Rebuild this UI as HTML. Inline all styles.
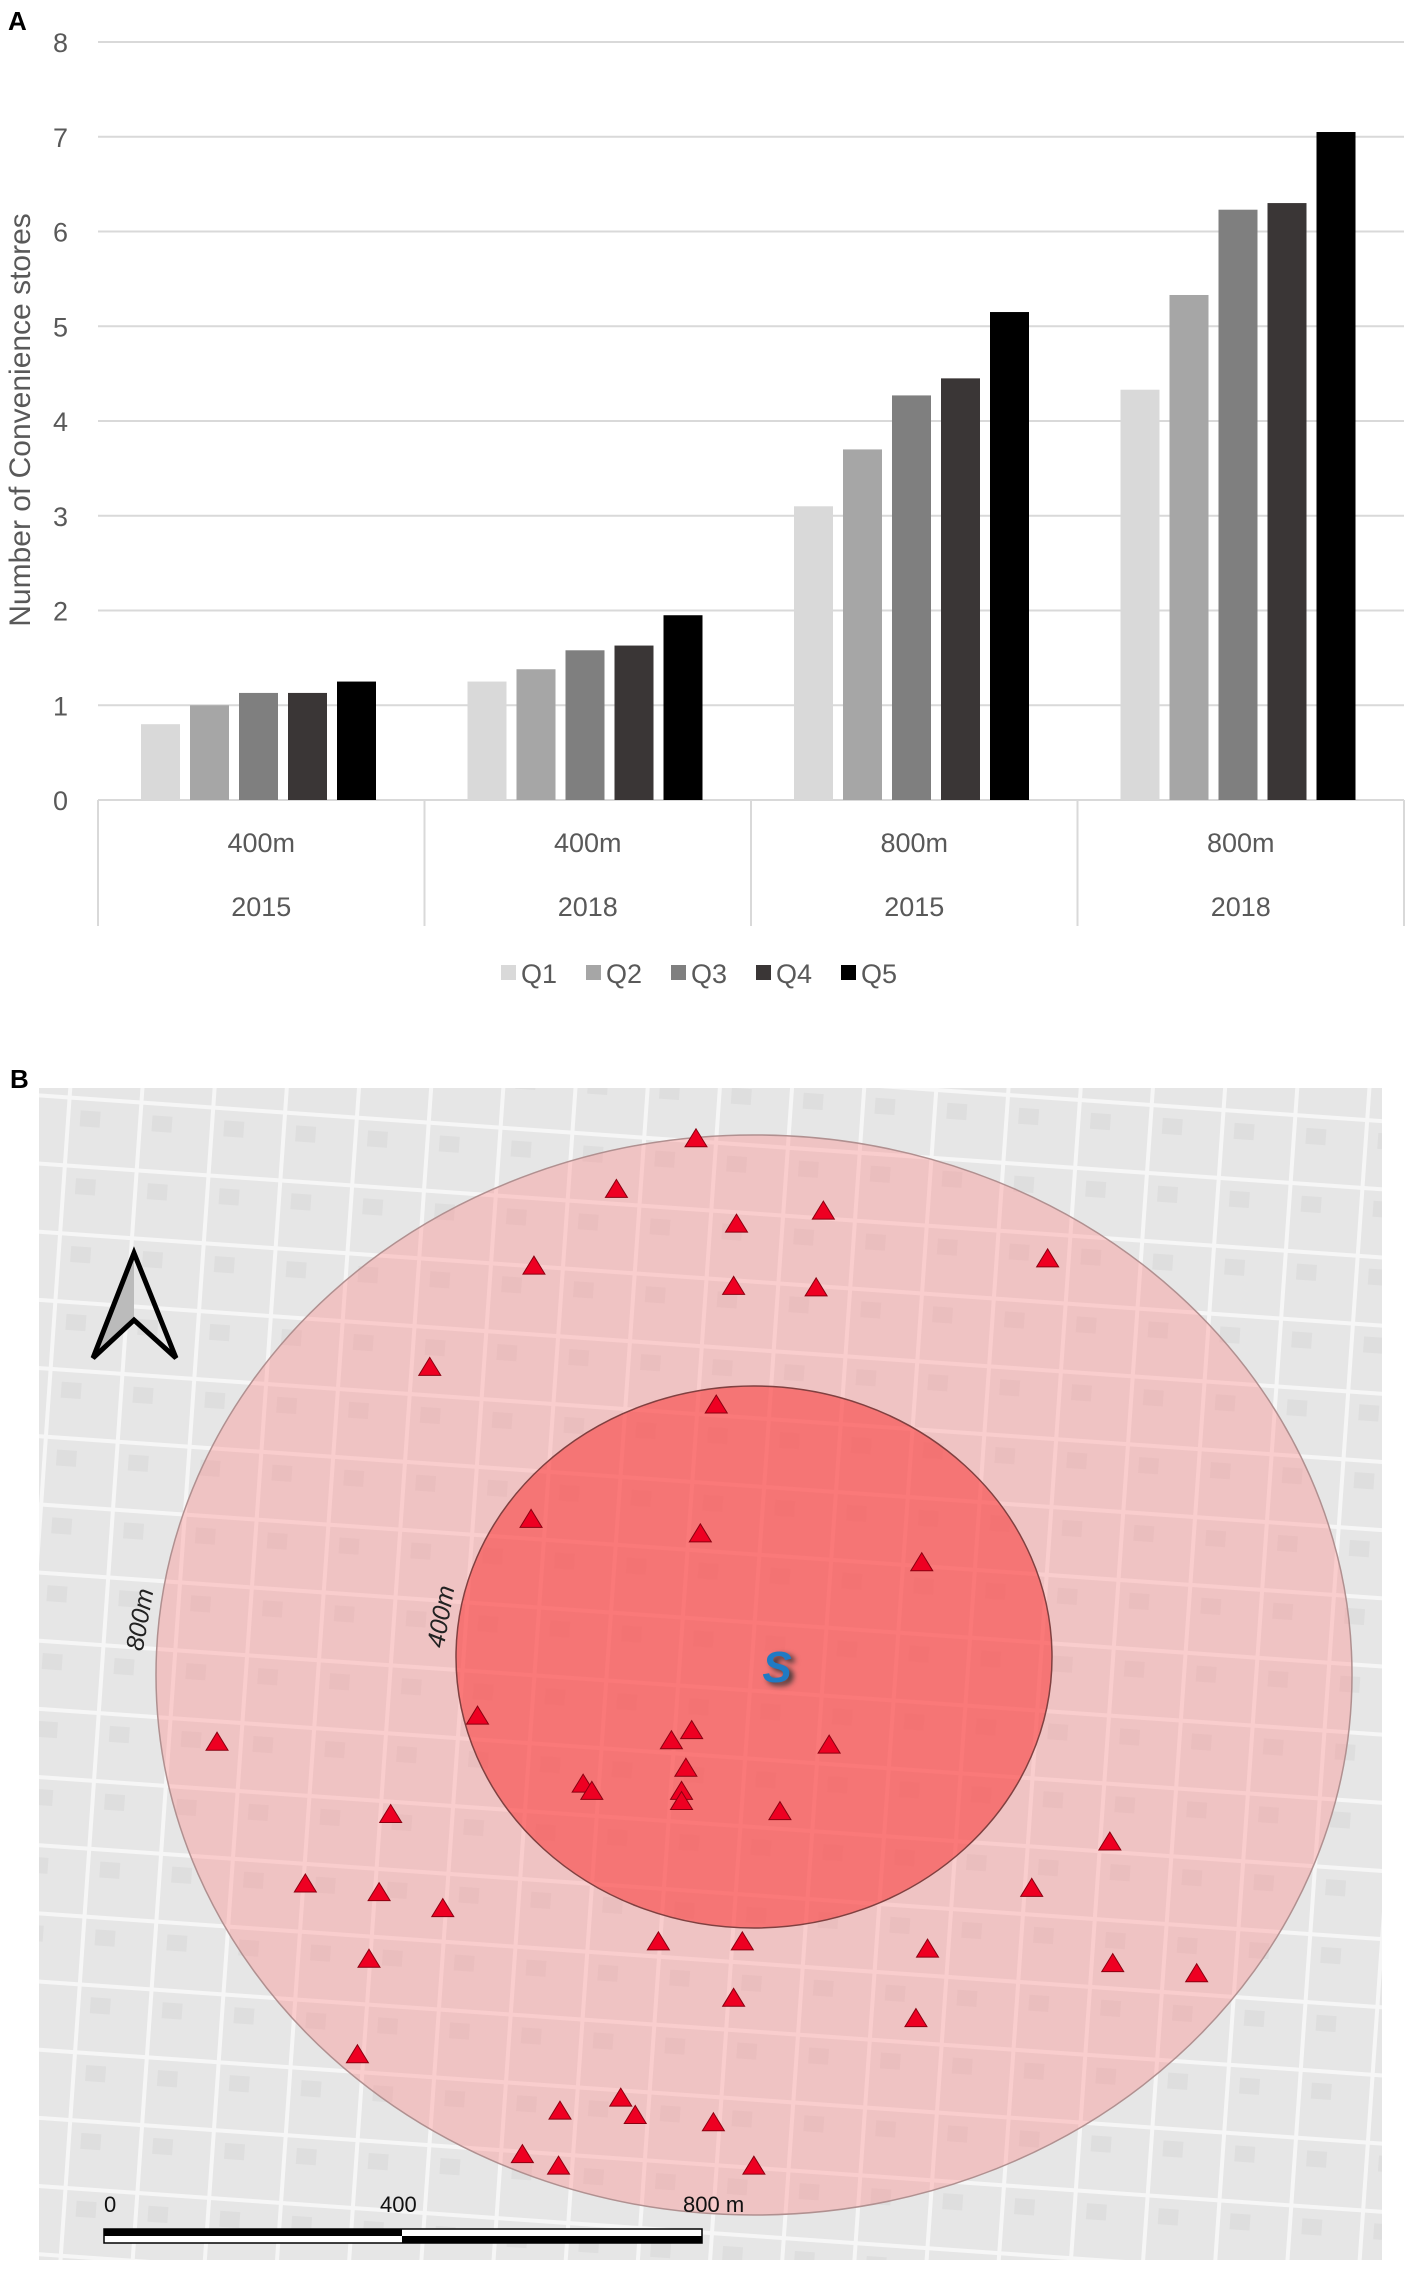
<!DOCTYPE html>
<html><head><meta charset="utf-8"><style>
html,body{margin:0;padding:0;background:#fff;}
body{width:1418px;height:2273px;position:relative;overflow:hidden;font-family:"Liberation Sans",sans-serif;}
svg{position:absolute;left:0;top:0;}
</style></head><body>
<svg id="chart" width="1418" height="1050" viewBox="0 0 1418 1050"></svg>
<svg id="map" width="1418" height="2273" viewBox="0 0 1418 2273" style="top:0;pointer-events:none"></svg>
<script>
// ===== Chart A data =====
const categories = ["400m|2015","400m|2018","800m|2015","800m|2018"];
const seriesNames = ["Q1","Q2","Q3","Q4","Q5"];
const q1 = [0.8, 1.25, 3.1, 4.33];
const q2 = [1.0, 1.38, 3.7, 5.33];
const q3 = [1.13, 1.58, 4.27, 6.23];
const q4 = [1.13, 1.63, 4.45, 6.3];
const q5 = [1.25, 1.95, 5.15, 7.05];
const yTicks = [0,1,2,3,4,5,6,7,8];
const colors = ["#d9d9d9","#a6a6a6","#7f7f7f","#3a3636","#000000"];

const NS="http://www.w3.org/2000/svg";
function mk(parent,tag,attrs,text){const e=document.createElementNS(NS,tag);for(const k in attrs)e.setAttribute(k,attrs[k]);if(text!==undefined)e.textContent=text;parent.appendChild(e);return e;}

const svg=document.getElementById('chart');
const X0=98,X1=1404,Y0=800,Y8=42;
const yScale=v=>Y0-(v/8)*(Y0-Y8);
const groupW=(X1-X0)/categories.length;
const xGroup=i=>X0+i*groupW;

let t=mk(svg,'text',{x:8,y:30,'font-size':26,'font-weight':'bold',fill:'#000'},'A');


yTicks.forEach(v=>{
  const y=yScale(v);
  if(v>0){const l=mk(svg,'line',{x1:X0,x2:X1,y1:y,y2:y,stroke:'#d9d9d9','stroke-width':2});
  }
  const tx=mk(svg,'text',{x:68,y:y+10,'font-size':27,fill:'#595959','text-anchor':'end'},String(v));
  
});
let yl=mk(svg,'text',{x:0,y:0,'font-size':30,fill:'#595959','text-anchor':'middle',transform:'translate(30,420) rotate(-90)'},'Number of Convenience stores');


let ax=mk(svg,'line',{x1:X0,x2:X1,y1:Y0,y2:Y0,stroke:'#d9d9d9','stroke-width':2});

for(let i=0;i<=categories.length;i++){
  const l=mk(svg,'line',{x1:xGroup(i),x2:xGroup(i),y1:Y0,y2:926,stroke:'#d9d9d9','stroke-width':2});
  
}
const all=[q1,q2,q3,q4,q5];
categories.forEach((c,i)=>{
  const [d,yr]=c.split('|');const cx=xGroup(i)+groupW/2;
  const a=mk(svg,'text',{x:cx,y:852,'font-size':27,fill:'#595959','text-anchor':'middle'},d);
  
  const b=mk(svg,'text',{x:cx,y:916,'font-size':27,fill:'#595959','text-anchor':'middle'},yr);
  
  all.forEach((s,j)=>{
    const x=xGroup(i)+43+j*49, y=yScale(s[i]);
    const r=mk(svg,'rect',{x:x,y:y,width:39,height:Y0-y,fill:colors[j]});
    
  });
});
seriesNames.forEach((n,j)=>{
  const x=501+j*85;
  const r=mk(svg,'rect',{x:x,y:965,width:15,height:15,fill:colors[j]});
  
  const tx=mk(svg,'text',{x:x+20,y:983,'font-size':27,fill:'#595959'},n);
  
});

// ===== Map B =====
const m=document.getElementById('map');
const tri=[[481,787],[426,822],[509,846],[569,837],[369,875],[507,889],[564,890],[724,870],[297,945],[495,971],[367,1050],[484,1060],[637,1080],[330,1186],[150,1204],[478,1196],[464,1203],[573,1206],[474,1222],[403,1233],[409,1238],[471,1238],[471,1245],[539,1252],[270,1254],[767,1273],[211,1302],[262,1308],[306,1319],[713,1305],[455,1342],[513,1342],[641,1347],[255,1354],[769,1357],[827,1364],[507,1381],[633,1395],[247,1420],[429,1450],[387,1459],[439,1462],[493,1467],[361,1489],[386,1497],[521,1497]];
const K=1.447;
let B=mk(m,'text',{x:10,y:1088,'font-size':26,'font-weight':'bold',fill:'#000'},'B');

const defs=mk(m,'defs',{});
mk(defs,'clipPath',{id:'mc'});
mk(defs.lastChild,'rect',{x:39,y:1088,width:1343,height:1172});
const pat=mk(defs,'pattern',{id:'streets',width:72,height:68,patternUnits:'userSpaceOnUse',patternTransform:'rotate(4)'});
mk(pat,'rect',{width:72,height:68,fill:'#e6e6e6'});
mk(pat,'rect',{x:0,y:0,width:72,height:4,fill:'#f6f6f6'});
mk(pat,'rect',{x:0,y:0,width:4,height:68,fill:'#f6f6f6'});
mk(pat,'rect',{x:14,y:14,width:20,height:16,fill:'#dedede'});
const g=mk(m,'g',{'clip-path':'url(#mc)'});
let bg=mk(g,'rect',{x:39,y:1088,width:1343,height:1172,fill:'url(#streets)'});

let o=mk(g,'ellipse',{cx:754,cy:1675,rx:598,ry:540,fill:'rgba(255,140,140,0.38)',stroke:'#b09090','stroke-width':1.5});

let inn=mk(g,'ellipse',{cx:754,cy:1657,rx:298,ry:271,fill:'rgba(250,60,60,0.58)',stroke:'#804040','stroke-width':1.5});

tri.forEach(p=>{
  const x=p[0]*K,y=p[1]*K;
  const tr=mk(g,'polygon',{points:`${x},${y-10} ${x-11},${y+8} ${x+11},${y+8}`,fill:'#ee0022',stroke:'#8a0010','stroke-width':1});
  
});
let s=mk(g,'text',{x:777,y:1682,'font-size':44,'font-weight':'bold','font-style':'italic',fill:'#1f7ac4','text-anchor':'middle',style:'filter:drop-shadow(4px 3px 3px #333)'},'S');

let l8=mk(g,'text',{x:0,y:0,'font-size':25,'font-style':'italic',fill:'#222','text-anchor':'middle',transform:'translate(148,1621) rotate(-80)'},'800m');

let l4=mk(g,'text',{x:0,y:0,'font-size':25,'font-style':'italic',fill:'#222','text-anchor':'middle',transform:'translate(449,1618) rotate(-80)'},'400m');

const na=mk(g,'g',{});

mk(na,'polygon',{points:'134,1253 134,1320 93,1358',fill:'#bbb'});
mk(na,'polygon',{points:'134,1253 176,1358 134,1320 93,1358',fill:'none',stroke:'#000','stroke-width':5,'stroke-linejoin':'miter'});
const sb=mk(g,'g',{});

mk(sb,'rect',{x:104,y:2229,width:598,height:14,fill:'#fff',stroke:'#000','stroke-width':1.5});
mk(sb,'rect',{x:104,y:2229,width:298,height:7,fill:'#000'});
mk(sb,'rect',{x:402,y:2236,width:300,height:7,fill:'#000'});
[['0',104,'start'],['400',380,'start'],['800 m',683,'start']].forEach(a=>{
  const tx=mk(g,'text',{x:a[1],y:2212,'font-size':22,fill:'#111','text-anchor':a[2]},a[0]);
  
});
</script>
</body></html>
